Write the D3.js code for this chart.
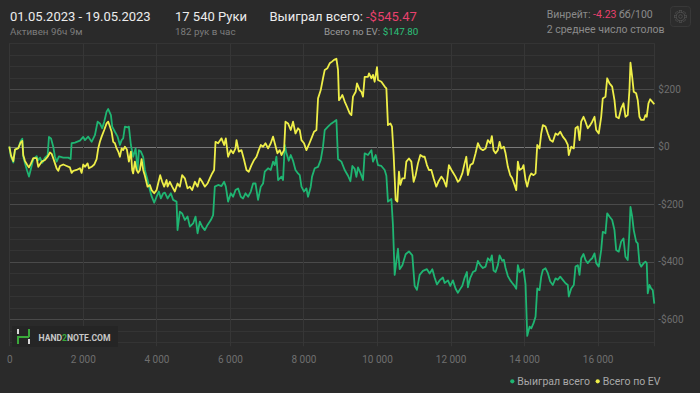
<!DOCTYPE html>
<html><head><meta charset="utf-8">
<script src="https://cdn.jsdelivr.net/npm/d3@7"></script>
<style>
html,body{margin:0;padding:0;background:#2a2a2a;}
svg{display:block;font-family:Roboto,"Noto Sans",sans-serif;}
</style></head>
<body><svg id="c" width="700" height="393"></svg>
<script>
const wonHands = [0,46,109,155,245,310,353,380,427,481,535,590,652,744,788,834,897,970,1043,1079,1133,1195,1242,1288,1350,1467,1603,1668,1695,1785,1921,2011,2057,2146,2239,2328,2402,2464,2527,2581,2646,2690,2763,2799,2872,2945,3008,3054,3097,3144,3217,3252,3307,3369,3434,3489,3524,3578,3641,3687,3760,3823,3869,3940,4005,4067,4122,4184,4230,4304,4393,4456,4548,4575,4638,4700,4774,4847,4910,4999,5065,5119,5181,5244,5317,5391,5480,5543,5589,5679,5771,5842,5888,5950,6024,6086,6151,6222,6295,6358,6423,6494,6567,6629,6695,6765,6839,6901,6947,7037,7110,7173,7219,7265,7309,7401,7445,7491,7537,7599,7654,7716,7782,7852,7898,7945,8015,8080,8124,8197,8233,8306,8396,8469,8531,8578,8667,8760,8830,8895,8939,9031,9121,9211,9276,9330,9393,9439,9482,9548,9618,9664,9754,9847,9890,9963,10026,10118,10208,10254,10297,10390,10433,10480,10569,10615,10689,10778,10868,10960,11023,11085,11159,11248,11357,11430,11504,11566,11629,11702,11792,11838,11928,11993,12063,12137,12199,12246,12319,12381,12444,12471,12536,12607,12680,12743,12808,12879,12952,13014,13080,13123,13169,13224,13286,13332,13406,13449,13495,13558,13623,13677,13740,13786,13830,13876,13922,13984,14039,14085,14148,14194,14256,14311,14357,14419,14465,14509,14582,14645,14710,14780,14854,14916,14982,15052,15126,15188,15215,15281,15351,15397,15460,15506,15552,15615,15669,15731,15797,15851,15914,15960,16030,16096,16139,16212,16259,16321,16394,16457,16503,16574,16639,16702,16756,16818,16864,16892,16938,16981,17046,17090,17136,17183,17253,17299,17334,17362,17408,17454,17498,17540];
const wonValues = [0,-35,-55,-10,-5,20,28,-35,-58,-82,-104,-76,-43,-33,-47,-38,-56,-38,-29,34,29,0,-35,-52,-34,-38,-38,-43,12,14,21,34,23,35,17,40,87,81,64,87,122,131,110,70,52,35,6,23,29,70,67,70,6,-35,-6,-81,-12,-17,-35,-81,-116,-151,-172,-195,-174,-156,-180,-162,-160,-180,-162,-185,-191,-290,-226,-232,-255,-243,-278,-267,-243,-301,-261,-278,-290,-272,-255,-238,-139,-133,-137,-122,-139,-191,-162,-174,-151,-145,-174,-180,-162,-174,-156,-128,-128,-185,-139,-128,-87,-75,-81,-52,-64,-35,-116,-104,-116,6,-23,-49,-29,-49,-81,-93,-99,-139,-156,-145,-174,-139,-104,-75,-70,-46,0,58,70,81,87,93,-43,-52,-81,-101,-120,-67,-77,-105,-72,-91,-116,-23,-29,-12,-52,-29,-64,-67,-81,-101,-191,-182,-273,-446,-355,-426,-412,-374,-364,-378,-484,-498,-446,-432,-426,-441,-426,-455,-479,-465,-455,-474,-465,-484,-465,-494,-508,-498,-484,-456,-436,-489,-456,-436,-431,-397,-412,-422,-417,-388,-397,-378,-431,-436,-412,-378,-397,-393,-422,-450,-465,-474,-484,-494,-412,-436,-431,-426,-479,-658,-626,-632,-614,-591,-493,-499,-452,-429,-423,-440,-469,-481,-458,-463,-452,-463,-475,-481,-521,-493,-481,-417,-412,-446,-388,-373,-394,-405,-394,-388,-371,-405,-417,-359,-296,-301,-232,-243,-255,-290,-359,-365,-330,-319,-383,-394,-296,-209,-243,-290,-330,-336,-405,-417,-405,-400,-405,-510,-481,-493,-499,-545.47];
const evHands = [0,46,109,155,245,310,353,380,427,481,535,590,652,744,788,880,970,1043,1106,1152,1195,1242,1288,1331,1378,1467,1560,1649,1695,1739,1831,1921,1967,2011,2057,2130,2165,2239,2309,2375,2418,2464,2511,2581,2646,2690,2736,2782,2826,2872,2918,2962,3008,3054,3097,3144,3198,3252,3307,3342,3369,3415,3461,3505,3551,3597,3641,3687,3760,3823,3869,3940,4005,4048,4103,4157,4211,4277,4304,4366,4429,4502,4575,4638,4700,4774,4847,4910,4972,5046,5119,5181,5244,5317,5391,5453,5516,5570,5608,5679,5771,5842,5888,5950,6024,6086,6151,6179,6241,6314,6385,6450,6513,6586,6657,6722,6784,6839,6901,6966,7037,7110,7173,7219,7292,7355,7401,7472,7510,7580,7654,7716,7782,7852,7898,7945,8015,8080,8143,8216,8287,8352,8396,8469,8531,8578,8651,8713,8776,8830,8895,8939,8966,9031,9058,9121,9183,9257,9303,9346,9420,9455,9529,9575,9618,9664,9754,9781,9847,9890,9936,9999,10026,10118,10208,10254,10297,10363,10406,10452,10507,10553,10596,10634,10689,10751,10797,10868,10933,10996,11050,11113,11178,11248,11295,11357,11411,11477,11539,11612,11675,11748,11811,11884,11955,12020,12082,12137,12199,12246,12319,12381,12428,12471,12536,12607,12680,12743,12808,12879,12952,13014,13080,13123,13169,13224,13286,13332,13379,13449,13495,13558,13623,13677,13740,13786,13830,13876,13949,13984,14039,14085,14148,14194,14256,14311,14357,14419,14465,14509,14582,14645,14710,14780,14854,14916,14982,15052,15126,15188,15215,15281,15351,15397,15460,15506,15552,15615,15669,15731,15797,15851,15914,15960,16030,16096,16139,16212,16259,16321,16394,16457,16503,16574,16639,16702,16756,16818,16864,16892,16938,16981,17046,17090,17136,17183,17253,17299,17334,17381,17427,17481,17540];
const evValues = [0,-30,-50,-10,-5,15,20,-30,-50,-62,-72,-58,-40,-40,-70,-52,-46,-35,-20,-25,-40,-58,-76,-84,-67,-62,-67,-72,-91,-84,-81,-75,-91,-62,-70,-58,-75,-70,-62,-43,-6,17,35,58,81,87,70,52,17,12,-6,-17,-35,-6,-12,0,-10,-52,-17,-81,-93,-52,-81,-91,-81,-43,-81,-101,-139,-133,-151,-162,-151,-128,-99,-122,-139,-116,-139,-122,-139,-156,-128,-139,-99,-110,-145,-139,-151,-122,-139,-110,-122,-139,-128,-110,-93,-81,17,12,29,6,29,-35,-12,-23,-6,23,-17,-12,-46,-81,-87,-64,-46,-35,-12,6,0,12,-6,12,35,12,-23,-12,-29,-12,87,81,58,87,46,64,58,23,12,-12,6,29,52,58,168,197,238,267,273,290,296,302,306,267,162,174,180,157,139,116,110,174,191,220,197,191,174,243,243,255,238,250,226,277,232,226,209,203,75,81,70,-29,-185,-191,-87,-133,-110,-110,-52,-41,-52,-122,-99,-58,-29,-35,-35,-64,-81,-81,-110,-139,-120,-104,-115,-139,-64,-80,-93,-105,-122,-116,-93,-58,-35,-99,-64,-58,-23,12,-6,-12,-6,23,12,37,-12,-23,-12,17,-6,0,-23,-70,-99,-110,-133,-151,-52,-81,-75,-64,-116,-139,-104,-93,-99,-93,6,-6,46,75,70,46,23,17,46,41,52,35,23,6,-29,0,-6,64,70,23,87,104,87,64,75,87,104,58,46,104,168,174,238,220,209,162,104,99,133,151,104,110,197,292,243,191,186,162,104,93,93,110,104,151,165,157,147.8];
const xTicks = [0,2000,4000,6000,8000,10000,12000,14000,16000];
const yTicks = [-600,-400,-200,0,200];
const seriesNames = ["Выиграл всего","Всего по EV"];
const seriesColors = ["#1fb572","#eeee48"];

const svg = d3.select("#c");
const x = d3.scaleLinear().domain([0,17540]).range([9.3,654.3]);
const y = d3.scaleLinear().domain([-680,360]).range([342.2,43.2]);
const loc = d3.formatLocale({decimal:".",thousands:"\u00a0",grouping:[3],currency:["$",""]});
const fx = loc.format(",d");
const fy = v => (v<0?"-$":"$")+Math.abs(v);

// grid
const g = svg.append("g");
g.selectAll("line.h").data(d3.range(-680,361,40)).join("line")
  .attr("x1",x(0)).attr("x2",x(17540))
  .attr("y1",d=>Math.round(y(d))+0.5).attr("y2",d=>Math.round(y(d))+0.5)
  .attr("stroke",d=>d===0?"#7a7a7a":(d%200===0?"#4a4a4a":"#343434"))
  .attr("stroke-width",d=>d===0?1.2:1);
g.selectAll("line.v").data(xTicks.concat([17540])).join("line")
  .attr("x1",d=>Math.round(x(d))+0.5).attr("x2",d=>Math.round(x(d))+0.5)
  .attr("y1",y(360)).attr("y2",y(-680)+4)
  .attr("stroke","#363636");

// axes
const ax = svg.append("g").attr("transform",`translate(0,${y(-680)})`)
  .call(d3.axisBottom(x).tickValues(xTicks).tickFormat(fx).tickSize(0).tickPadding(14));
ax.select(".domain").remove();
ax.selectAll("text").attr("fill","#6f6f6f").attr("font-size","10px").attr("font-family","Roboto");
const ay = svg.append("g").attr("transform",`translate(${x(17540)},0)`)
  .call(d3.axisRight(y).tickValues(yTicks).tickFormat(fy).tickSize(0).tickPadding(4));
ay.select(".domain").remove();
ay.selectAll("text").attr("fill","#6f6f6f").attr("font-size","10px").attr("font-family","Roboto");

// lines
const line = d3.line().x(d=>x(d[0])).y(d=>y(d[1]));
const won = wonHands.map((h,i)=>[h,wonValues[i]]);
const ev = evHands.map((h,i)=>[h,evValues[i]]);
svg.append("path").datum(won).attr("d",line).attr("fill","none").attr("stroke",seriesColors[0]).attr("stroke-width",1.8).attr("stroke-linejoin","round");
svg.append("path").datum(ev).attr("d",line).attr("fill","none").attr("stroke",seriesColors[1]).attr("stroke-width",1.8).attr("stroke-linejoin","round");

// logo
const lg = svg.append("g");
lg.append("rect").attr("x",12).attr("y",326).attr("width",106).attr("height",21).attr("fill","#252525");
lg.append("rect").attr("x",17).attr("y",329).attr("width",2).attr("height",5).attr("fill","#d8d8d8");
lg.append("rect").attr("x",17).attr("y",336).attr("width",2).attr("height",8).attr("fill","#3aa83a");
lg.append("rect").attr("x",18).attr("y",336).attr("width",11).attr("height",2).attr("fill","#3aa83a");
lg.append("rect").attr("x",28).attr("y",329).attr("width",2).attr("height",8).attr("fill","#3aa83a");
lg.append("rect").attr("x",28).attr("y",339).attr("width",2).attr("height",5).attr("fill","#d8d8d8");
const lt = lg.append("text").attr("x",38.5).attr("y",340.5).attr("font-size","8.6px").attr("font-weight","bold").attr("fill","#c8c8c8");
lt.append("tspan").text("HAND");
lt.append("tspan").attr("fill","#3aa83a").text("2");
lt.append("tspan").text("NOTE.COM");

// header
const hd = svg.append("g");
hd.append("text").attr("x",10).attr("y",20.5).attr("font-size","13px").attr("fill","#ececec").text("01.05.2023 - 19.05.2023");
hd.append("text").attr("x",10).attr("y",35).attr("font-size","9.8px").attr("fill","#7c7c7c").text("Активен 96ч 9м");
hd.append("text").attr("x",175).attr("y",20.5).attr("font-size","13px").attr("fill","#ececec").text("17 540 Руки");
hd.append("text").attr("x",175).attr("y",35).attr("font-size","9.8px").attr("fill","#7c7c7c").text("182 рук в час");
const t1 = hd.append("text").attr("x",269.5).attr("y",20.5).attr("font-size","13px").attr("fill","#ececec");
t1.append("tspan").text("Выиграл всего: ");
t1.append("tspan").attr("fill","#e8416d").text("-$545.47");
const t2 = hd.append("text").attr("x",418.3).attr("y",35).attr("text-anchor","end").attr("font-size","9.8px").attr("fill","#9a9a9a");
t2.append("tspan").text("Всего по EV: ");
t2.append("tspan").attr("fill","#2cc27a").text("$147.80");
const t3 = hd.append("text").attr("x",546.7).attr("y",18.3).attr("font-size","10.5px").attr("fill","#8a8a8a");
t3.append("tspan").text("Винрейт: ");
t3.append("tspan").attr("fill","#e8416d").text("-4.23");
t3.append("tspan").text(" бб/100");
hd.append("text").attr("x",546.7).attr("y",33).attr("font-size","10.5px").attr("fill","#8a8a8a").text("2 среднее число столов");

// gear button
const gb = svg.append("g");
gb.append("rect").attr("x",670.5).attr("y",6.5).attr("width",20).attr("height",20).attr("rx",3).attr("fill","#2c2c2c").attr("stroke","#383838");
const gear = gb.append("g").attr("transform","translate(680.5,16.5)");
gear.selectAll("rect").data(d3.range(8)).join("rect")
  .attr("x",-1.2).attr("y",-6).attr("width",2.4).attr("height",3)
  .attr("transform",d=>`rotate(${d*45})`).attr("fill","none").attr("stroke","#4e4e4e").attr("stroke-width",0.8);
gear.append("circle").attr("r",4.2).attr("fill","#2c2c2c").attr("stroke","#4e4e4e").attr("stroke-width",0.9);
gear.append("circle").attr("r",1.8).attr("fill","none").attr("stroke","#4e4e4e").attr("stroke-width",0.9);

// legend
const leg = svg.append("g");
const legX = [512.3, 597.7];
seriesNames.forEach((n,i)=>{
  leg.append("circle").attr("cx",legX[i]).attr("cy",381.3).attr("r",2.1).attr("fill",seriesColors[i]);
  leg.append("text").attr("x",legX[i]+5).attr("y",385).attr("font-size","10.5px").attr("fill","#a8a8a8").text(n);
});
</script></body></html>
